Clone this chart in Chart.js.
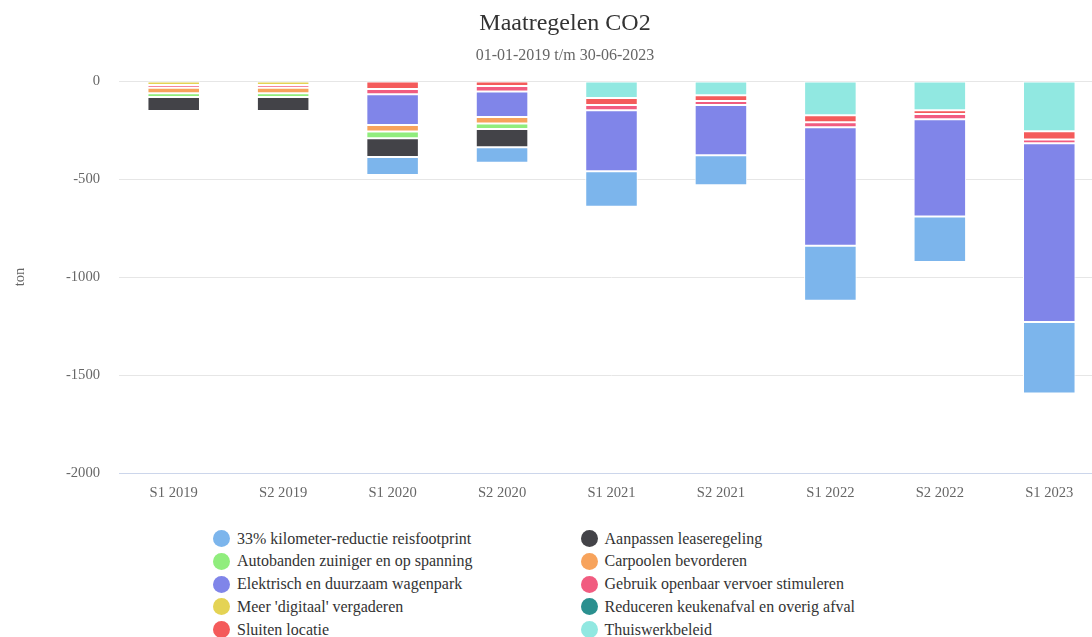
<!DOCTYPE html>
<html>
<head>
<meta charset="utf-8">
<script src="https://cdn.jsdelivr.net/npm/chart.js@4.4.1/dist/chart.umd.min.js"></script>
<style>
  body { margin: 0; background: #fff; overflow: hidden; width: 1092px; height: 637px; position: relative; }
  #wrap { position: absolute; left: 0; top: 0; width: 1130px; height: 510px; }
  #legend { position: absolute; left: 0; top: 0; font-family: "Liberation Serif", "Times New Roman", serif; font-size: 16px; color: #333; }
  .item { position: absolute; white-space: nowrap; height: 22px; line-height: 22px; }
  .dot { position: absolute; left: 0; top: 2.5px; width: 17px; height: 17px; border-radius: 50%; }
  .lbl { position: absolute; left: 24px; top: 0; }
</style>
</head>
<body>
<div id="wrap"><canvas id="canvas1" width="1130" height="510"></canvas></div>
<div id="legend"></div>
<script>
// half-years
var categories = ["S1 2019", "S2 2019", "S1 2020", "S2 2020", "S1 2021", "S2 2021", "S1 2022", "S2 2022", "S1 2023"];

// reduction in ton per measure (negative = saved)
var kmReductie   = [null, null, -91, -79, -180, -153, -281, -232, -366];
var leaseregel   = [-71, -71, -96, -93, null, null, null, null, null];
var autobanden   = [-20, -20, -34, -28, null, null, null, null, null];
var carpoolen    = [-28, -28, -34, -33, null, null, null, null, null];
var elektrisch   = [null, null, -156, -130, -312, -257, -604, -496, -911];
var openbaarVv   = [-14, -14, -27, -28, -27, -20, -26, -26, -20];
var digitaal     = [-20, -20, null, null, null, null, null, null, null];
var keukenafval  = [null, null, null, null, null, null, null, null, null];
var sluitenLoc   = [null, null, -41, -26, -35, -29, -35, -20, -42];
var thuiswerk    = [null, null, null, null, -87, -73, -175, -149, -256];

var yTicks = [0, -500, -1000, -1500, -2000];

var series = [
  ["33% kilometer-reductie reisfootprint", kmReductie, "#7cb5ec"],
  ["Aanpassen leaseregeling", leaseregel, "#434348"],
  ["Autobanden zuiniger en op spanning", autobanden, "#90ed7d"],
  ["Carpoolen bevorderen", carpoolen, "#f7a35c"],
  ["Elektrisch en duurzaam wagenpark", elektrisch, "#8085e9"],
  ["Gebruik openbaar vervoer stimuleren", openbaarVv, "#f15c80"],
  ["Meer 'digitaal' vergaderen", digitaal, "#e4d354"],
  ["Reduceren keukenafval en overig afval", keukenafval, "#2b908f"],
  ["Sluiten locatie", sluitenLoc, "#f45b5b"],
  ["Thuiswerkbeleid", thuiswerk, "#91e8e1"]
];

var datasets = series.map(function(s, i){
  return {
    label: s[0],
    data: s[1],
    backgroundColor: s[2],
    borderColor: "#ffffff",
    borderWidth: 1,
    borderSkipped: false,
    order: series.length - 1 - i,   // last series sits nearest to zero
    barPercentage: 0.8,
    categoryPercentage: 0.6
  };
});

Chart.defaults.font.family = '"Liberation Serif", "Times New Roman", serif';
Chart.defaults.color = "#666666";

var chart = new Chart(document.getElementById('canvas1'), {
  type: 'bar',
  data: { labels: categories, datasets: datasets },
  options: {
    responsive: false,
    animation: false,
    layout: { padding: 0 },
    plugins: {
      legend: { display: false },
      tooltip: { enabled: false },
      title: {
        display: true,
        text: "Maatregelen CO2",
        color: "#333333",
        font: { size: 24, weight: 'normal' },
        padding: { top: 9, bottom: 0 }
      },
      subtitle: {
        display: true,
        text: "01-01-2019 t/m 30-06-2023",
        color: "#666666",
        font: { size: 16 },
        padding: { top: 8.7, bottom: 15.3 }
      }
    },
    scales: {
      x: {
        stacked: true,
        grid: { display: false, drawTicks: false },
        border: { display: true, color: "#ccd6eb" },
        ticks: { color: "#666666", font: { size: 14.6 }, padding: 11, maxRotation: 0 },
        afterFit: function(s){ s.height = 37; }
      },
      y: {
        stacked: true,
        min: -2000,
        max: 0,
        afterBuildTicks: function(s){ s.ticks = yTicks.map(function(v){ return { value: v }; }); },
        grid: { color: "#e6e6e6", drawTicks: false },
        border: { display: false },
        ticks: { color: "#666666", font: { size: 14.6 }, padding: 19, callback: function(v){ return String(v); } },
        title: { display: true, text: "ton", color: "#666666", font: { size: 14.6 }, padding: { top: 11, bottom: 0 } },
        afterFit: function(s){ s.width = 119; }
      },
      y2: {
        position: 'right',
        grid: { display: false, drawTicks: false },
        border: { display: false },
        ticks: { display: false },
        afterFit: function(s){ s.width = 26; }
      }
    }
  }
});

// legend in two columns, like the original
var legend = document.getElementById('legend');
chart.data.datasets.forEach(function(ds, i){
  var col = i % 2, row = Math.floor(i / 2);
  var item = document.createElement('div');
  item.className = 'item';
  item.style.left = (col === 0 ? 213 : 580.5) + 'px';
  item.style.top = (527.5 + row * 22.75) + 'px';
  item.innerHTML = '<span class="dot" style="background:' + ds.backgroundColor + '"></span><span class="lbl"></span>';
  item.querySelector('.lbl').textContent = ds.label;
  legend.appendChild(item);
});
</script>
</body>
</html>
